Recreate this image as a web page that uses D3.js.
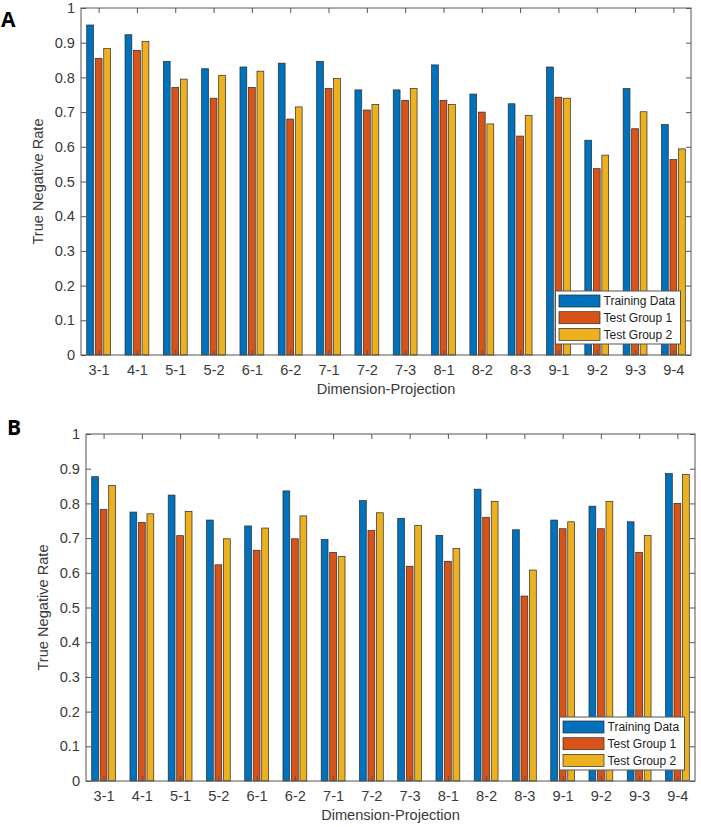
<!DOCTYPE html>
<html><head><meta charset="utf-8">
<script src="https://cdn.jsdelivr.net/npm/d3@7"></script>
<style>body{margin:0;background:#fff}svg{display:block}</style>
</head><body>
<script>
const categories = ["3-1","4-1","5-1","5-2","6-1","6-2","7-1","7-2","7-3","8-1","8-2","8-3","9-1","9-2","9-3","9-4"];
const seriesNames = ["Training Data","Test Group 1","Test Group 2"];
const seriesColors = ["#0072BD","#D95319","#EDB120"];
const yTicks = [0,0.1,0.2,0.3,0.4,0.5,0.6,0.7,0.8,0.9,1];
const yTickLabels = ["0","0.1","0.2","0.3","0.4","0.5","0.6","0.7","0.8","0.9","1"];

const panelA_training = [0.951,0.923,0.846,0.825,0.830,0.841,0.846,0.764,0.764,0.836,0.752,0.724,0.830,0.619,0.768,0.664];
const panelA_test1    = [0.855,0.878,0.771,0.740,0.771,0.680,0.768,0.706,0.734,0.734,0.700,0.631,0.743,0.537,0.652,0.563];
const panelA_test2    = [0.883,0.904,0.795,0.806,0.818,0.715,0.797,0.722,0.768,0.722,0.666,0.690,0.740,0.576,0.701,0.594];

const panelB_training = [0.877,0.775,0.824,0.752,0.735,0.836,0.696,0.808,0.757,0.708,0.841,0.724,0.752,0.792,0.747,0.886];
const panelB_test1    = [0.782,0.745,0.707,0.623,0.665,0.698,0.659,0.722,0.619,0.633,0.760,0.533,0.727,0.727,0.659,0.800];
const panelB_test2    = [0.852,0.770,0.777,0.698,0.729,0.764,0.647,0.773,0.736,0.670,0.806,0.608,0.747,0.806,0.708,0.883];

const W = 701, H = 827;
const svg = d3.select("body").append("svg").attr("width", W).attr("height", H);
const FONT = "'Liberation Sans', Arial, sans-serif";
const FS = "14.6px";
const axisColor = "#555";
const textColor = "#3a3a3a";

function panel(label, series, box, labelPos, ylabX) {
  const g = svg.append("g");
  const x = d3.scaleLinear().domain([0.54, 16.46]).range([box.x0, box.x1]);
  const y = d3.scaleLinear().domain([0, 1]).range([box.y1, box.y0]);
  const groupW = 0.6667, slot = groupW / 3, barW = slot * 0.8;

  series.forEach((vals, k) => {
    g.append("g").selectAll("rect").data(vals).join("rect")
      .attr("x", (d, i) => x(i + 1 + (k - 1) * slot - barW / 2))
      .attr("width", (d, i) => x(i + 1 + barW / 2) - x(i + 1 - barW / 2))
      .attr("y", d => y(d))
      .attr("height", d => y(0) - y(d))
      .attr("fill", seriesColors[k])
      .attr("stroke", "#2a2a2a")
      .attr("stroke-width", 0.7);
  });

  g.append("rect").attr("x", box.x0).attr("y", box.y0)
    .attr("width", box.x1 - box.x0).attr("height", box.y1 - box.y0)
    .attr("fill", "none").attr("stroke", axisColor).attr("stroke-width", 1);

  const xb = d3.axisBottom(x).tickValues(d3.range(1, 17)).tickFormat(d => categories[d - 1]).tickSizeInner(-5).tickSizeOuter(0).tickPadding(10);
  const gx = g.append("g").attr("transform", `translate(0,${box.y1})`).call(xb);
  const xt = d3.axisTop(x).tickValues(d3.range(1, 17)).tickFormat("").tickSizeInner(-5).tickSizeOuter(0);
  const gxt = g.append("g").attr("transform", `translate(0,${box.y0})`).call(xt);
  const yl = d3.axisLeft(y).tickValues(yTicks).tickFormat((d, i) => yTickLabels[i]).tickSizeInner(-5).tickSizeOuter(0).tickPadding(6);
  const gy = g.append("g").attr("transform", `translate(${box.x0},0)`).call(yl);
  const yr = d3.axisRight(y).tickValues(yTicks).tickFormat("").tickSizeInner(-5).tickSizeOuter(0);
  const gyr = g.append("g").attr("transform", `translate(${box.x1},0)`).call(yr);
  [gx, gxt, gy, gyr].forEach(a => {
    a.select(".domain").remove();
    a.selectAll("line").attr("stroke", axisColor);
    a.selectAll("text").attr("fill", textColor).style("font-family", FONT).style("font-size", FS);
  });

  g.append("text").attr("x", (box.x0 + box.x1) / 2).attr("y", box.y1 + 39)
    .attr("text-anchor", "middle").attr("fill", textColor)
    .style("font-family", FONT).style("font-size", FS).text("Dimension-Projection");
  g.append("text").attr("transform", `translate(${ylabX},${(box.y0 + box.y1) / 2}) rotate(-90)`)
    .attr("text-anchor", "middle").attr("fill", textColor)
    .style("font-family", FONT).style("font-size", FS).text("True Negative Rate");

  g.append("text").attr("x", labelPos[0]).attr("y", labelPos[1])
    .style("font-family", "'Open Sans','DejaVu Sans',sans-serif").style("font-weight", "bold").style("font-size", "21px")
    .attr("fill", "#000").text(label);

  const lw = 125, lh = 53;
  const lx = box.x1 - 10.5 - lw, ly = box.y1 - 11 - lh;
  const lg = g.append("g").attr("transform", `translate(${lx},${ly})`);
  lg.append("rect").attr("width", lw).attr("height", lh).attr("fill", "#fff").attr("stroke", axisColor).attr("stroke-width", 1);
  seriesNames.forEach((n, k) => {
    const cy = 10 + k * 16.7;
    lg.append("rect").attr("x", 3.5).attr("y", cy - 6).attr("width", 41).attr("height", 12)
      .attr("fill", seriesColors[k]).attr("stroke", "#2a2a2a").attr("stroke-width", 0.7);
    lg.append("text").attr("x", 48).attr("y", cy + 4.3).attr("fill", "#222")
      .style("font-family", FONT).style("font-size", "12px").text(n);
  });
}

panel("A", [panelA_training, panelA_test1, panelA_test2], {x0: 81, x1: 691, y0: 8, y1: 355}, [1, 27], 42.5);
panel("B", [panelB_training, panelB_test1, panelB_test2], {x0: 86, x1: 695, y0: 434, y1: 781}, [7, 435], 48);
</script>
</body></html>
